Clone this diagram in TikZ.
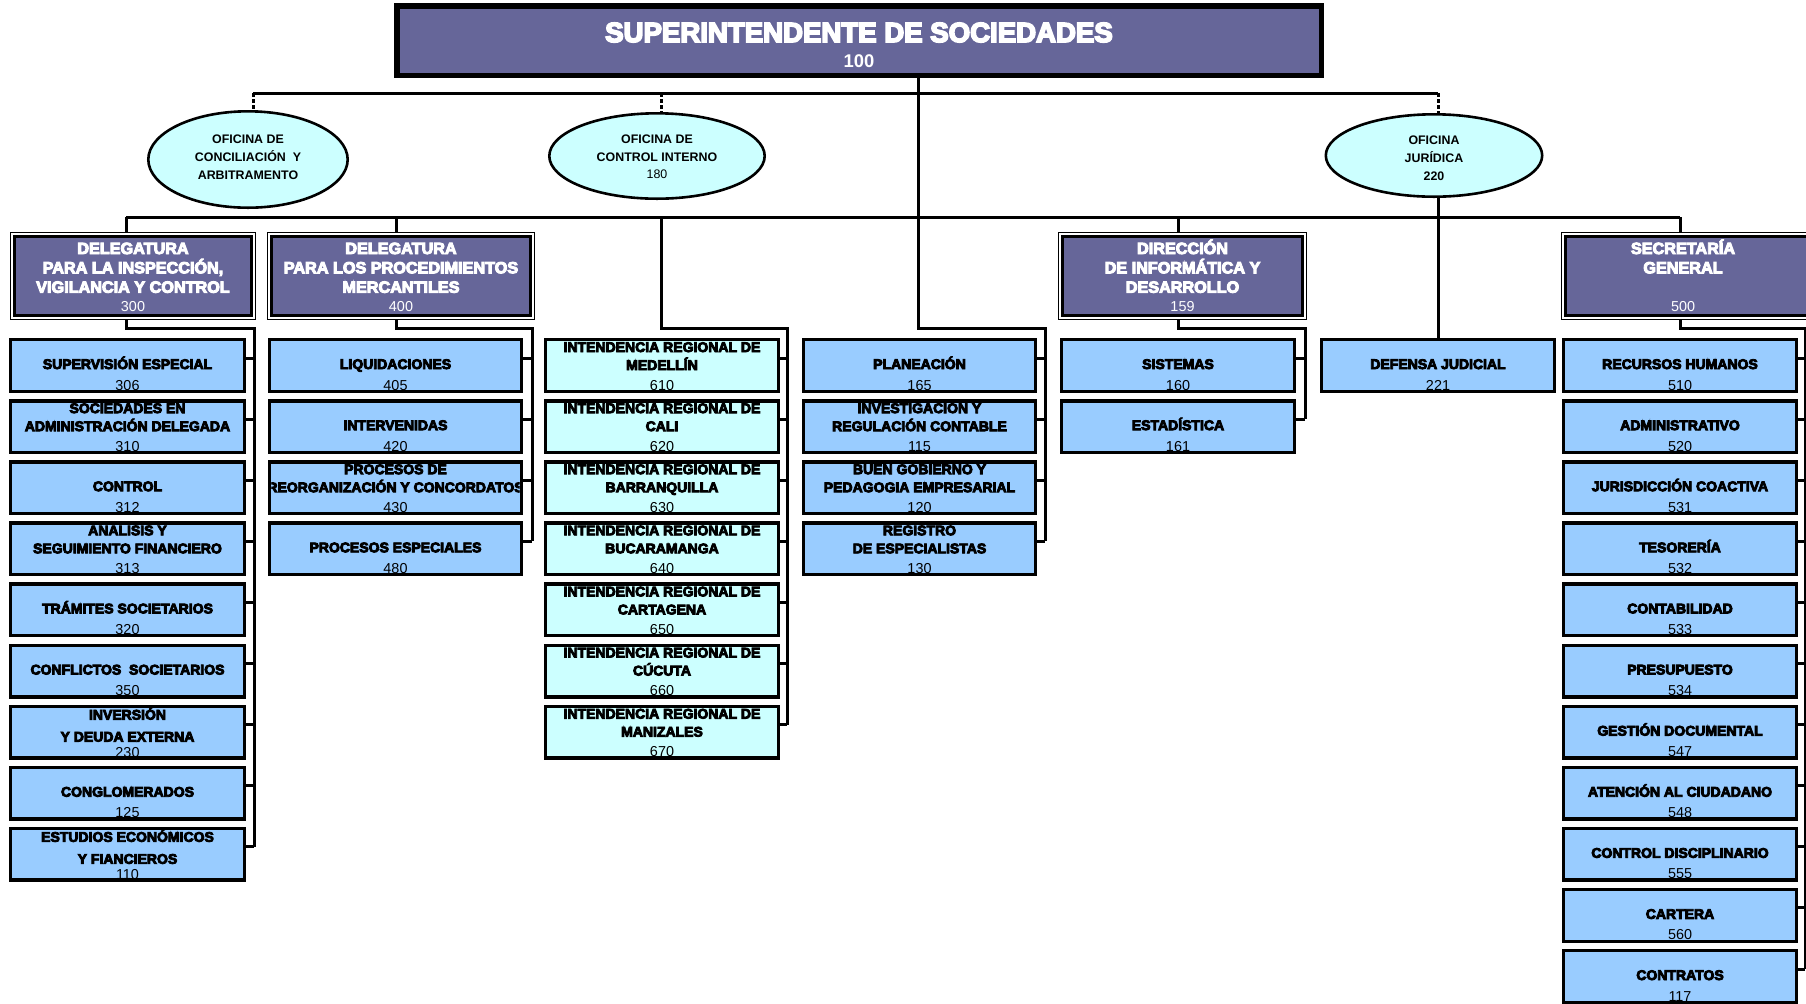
\documentclass[tikz,border=0pt]{standalone}
\usepackage{fontspec}
\setmainfont{Liberation Sans}
\newfontfamily\heavy{Liberation Sans}[BoldFeatures={FakeBold=6}]
\usetikzlibrary{calc,shapes.geometric}
\definecolor{purp}{HTML}{666699}
\definecolor{lblue}{HTML}{99CCFF}
\definecolor{lcyan}{HTML}{CCFFFF}
% child box: name, x-left (outer), row, width (outer), fill
\newcommand\kid[5]{%
  \node[kidbox,fill=#5,minimum width={(#4-3.4)*0.5pt}] (#1) at ({#2+1.7},{338+61.1*#3+1.7}) {};}
\newcommand\kone[3]{%
  \node[ttl] (#1-a) at ($(#1.north)+(0,29.3)$) {#2};
  \node[num] (#1-n) at ($(#1.north)+(0,50.3)$) {#3};}
\newcommand\ktwo[4]{%
  \node[ttl] (#1-a) at ($(#1.north)+(0,12.3)$) {#2};
  \node[ttl] (#1-b) at ($(#1.north)+(0,30.3)$) {#3};
  \node[num] (#1-n) at ($(#1.north)+(0,50.3)$) {#4};}
\newcommand\ktwob[4]{%
  \node[ttl] (#1-a) at ($(#1.north)+(0,13.3)$) {#2};
  \node[ttl] (#1-b) at ($(#1.north)+(0,35.3)$) {#3};
  \node[num] (#1-n) at ($(#1.north)+(0,51.3)$) {#4};}
% delegatura box: name, x-left, x-right
\newcommand\dbox[3]{%
  \node[draw,line width=0.6pt,fill=white,anchor=north west,minimum width={(#3-#2-1.2)*0.5pt},minimum height={(88-1.2)*0.5pt}] (#1) at ({#2+0.6},232.6) {};
  \draw[line width=1.4pt,fill=purp] ($(#1.north west)+(3.7,3.7)$) rectangle ($(#1.south east)+(-3.7,-3.7)$);}
% stubs from children to bracket
\newcommand\stubs[3]{\foreach \k in {0,...,#2}{%
  \path ($(#1\k.north east)+(0,18.3)$) coordinate (#1\k s);
  \draw[conn] (#1\k s) -- (#1\k s -| #3);}}
\begin{document}
\begin{tikzpicture}[x=0.5pt,y=-0.5pt,
  every node/.style={inner sep=0pt,outer sep=0pt},
  kidbox/.style={draw,line width=1.7pt,anchor=north west,minimum height=25.8pt},
  ttl/.style={anchor=base,font=\heavy\bfseries\fontsize{7}{8}\selectfont},
  num/.style={anchor=base,font=\fontsize{7.2}{8}\selectfont},
  dtxt/.style={anchor=base,text=white,font=\heavy\bfseries\fontsize{8.1}{9}\selectfont},
  dnum/.style={anchor=base,text=white,font=\fontsize{7.2}{8}\selectfont},
  ell/.style={ellipse,draw,line width=1.3pt,fill=lcyan},
  etxt/.style={anchor=base,font=\bfseries\fontsize{6.2}{7}\selectfont},
  enum/.style={anchor=base,font=\fontsize{6.2}{7}\selectfont},
  conn/.style={line width=1.5pt},
  dconn/.style={line width=1.5pt,dash pattern=on 2pt off 1pt}]
\useasboundingbox (0,0) rectangle (1806,1003);
\clip (0,0) rectangle (1806,1003);

% ---------- top box ----------
\node[draw,line width=2.75pt,fill=purp,anchor=north west,minimum width={(1324-394-5.5)*0.5pt},minimum height={(78-3-5.5)*0.5pt}] (top) at (396.75,5.75) {};
\node[anchor=base,text=white,font=\heavy\bfseries\fontsize{13.8}{15}\selectfont] (topt) at (859,42) {SUPERINTENDENTE DE SOCIEDADES};
\node[anchor=base,text=white,font=\bfseries\fontsize{9.2}{10}\selectfont] (topn) at (859,67) {100};

% ---------- ellipses ----------
\node[ell,minimum width=99.7pt,minimum height=48.2pt] (e1) at (248,159.5) {};
\node[etxt] (e1a) at (248,143.5) {OFICINA DE};
\node[etxt] (e1b) at (248,161.5) {CONCILIACIÓN\ \ Y};
\node[etxt] (e1c) at (248,179.5) {ARBITRAMENTO};
\node[ell,minimum width=107.7pt,minimum height=42.7pt] (e2) at (657,156) {};
\node[etxt] (e2a) at (657,143.5) {OFICINA DE};
\node[etxt] (e2b) at (657,161.5) {CONTROL INTERNO};
\node[enum] (e2c) at (657,178.5) {180};
\node[ell,minimum width=108.2pt,minimum height=41.2pt] (e3) at (1434,155.5) {};
\node[etxt] (e3a) at (1434,144.5) {OFICINA};
\node[etxt] (e3b) at (1434,162.5) {JURÍDICA};
\node[etxt] (e3c) at (1434,180.5) {220};

% ---------- second level boxes ----------
\dbox{d3}{10}{256}
\node[dtxt] (d3a) at (d3.north |- 0,254) {DELEGATURA};
\node[dtxt] (d3b) at (d3.north |- 0,273.3) {PARA LA INSPECCIÓN,};
\node[dtxt] (d3c) at (d3.north |- 0,292.7) {VIGILANCIA Y CONTROL};
\node[dnum] (d3n) at (d3.north |- 0,311.5) {300};
\dbox{d4}{267}{535}
\node[dtxt] (d4a) at (d4.north |- 0,254) {DELEGATURA};
\node[dtxt] (d4b) at (d4.north |- 0,273.3) {PARA LOS PROCEDIMIENTOS};
\node[dtxt] (d4c) at (d4.north |- 0,292.7) {MERCANTILES};
\node[dnum] (d4n) at (d4.north |- 0,311.5) {400};
\dbox{dd}{1058}{1307}
\node[dtxt] (dda) at (dd.north |- 0,254) {DIRECCIÓN};
\node[dtxt] (ddb) at (dd.north |- 0,273.3) {DE INFORMÁTICA Y};
\node[dtxt] (ddc) at (dd.north |- 0,292.7) {DESARROLLO};
\node[dnum] (ddn) at (dd.north |- 0,311.5) {159};
\dbox{sg}{1561}{1812}
\node[dtxt] (sga) at (1683,254) {SECRETARÍA};
\node[dtxt] (sgb) at (1683,273.3) {GENERAL};
\node[dnum] (sgn) at (1683,311.5) {500};

% ---------- children: Delegatura 300 ----------
\kid{l0}{9}{0}{237}{lblue}\kone{l0}{SUPERVISIÓN ESPECIAL}{306}
\kid{l1}{9}{1}{237}{lblue}\ktwo{l1}{SOCIEDADES EN}{ADMINISTRACIÓN DELEGADA}{310}
\kid{l2}{9}{2}{237}{lblue}\kone{l2}{CONTROL}{312}
\kid{l3}{9}{3}{237}{lblue}\ktwo{l3}{ANALISIS Y}{SEGUIMIENTO FINANCIERO}{313}
\kid{l4}{9}{4}{237}{lblue}\kone{l4}{TRÁMITES SOCIETARIOS}{320}
\kid{l5}{9}{5}{237}{lblue}\kone{l5}{CONFLICTOS\ \ SOCIETARIOS}{350}
\kid{l6}{9}{6}{237}{lblue}\ktwob{l6}{INVERSIÓN}{Y DEUDA EXTERNA}{230}
\kid{l7}{9}{7}{237}{lblue}\kone{l7}{CONGLOMERADOS}{125}
\kid{l8}{9}{8}{237}{lblue}\ktwob{l8}{ESTUDIOS ECONÓMICOS}{Y FIANCIEROS}{110}

% ---------- children: Delegatura 400 ----------
\kid{m0}{268}{0}{255}{lblue}\kone{m0}{LIQUIDACIONES}{405}
\kid{m1}{268}{1}{255}{lblue}\kone{m1}{INTERVENIDAS}{420}
\kid{m2}{268}{2}{255}{lblue}
\node[ttl] (m2-a) at ($(m2.north)+(0,12.3)$) {PROCESOS DE};
\begin{scope}
\clip ($(m2.north west)+(1.7,1.7)$) rectangle ($(m2.south east)+(-1.7,-1.7)$);
\node[ttl] (m2-b) at ($(m2.north)+(0,30.3)$) {REORGANIZACIÓN Y CONCORDATOS};
\end{scope}
\node[num] (m2-n) at ($(m2.north)+(0,50.3)$) {430};
\kid{m3}{268}{3}{255}{lblue}\kone{m3}{PROCESOS ESPECIALES}{480}

% ---------- children: Intendencias ----------
\kid{i0}{544}{0}{236}{lcyan}\ktwo{i0}{INTENDENCIA REGIONAL DE}{MEDELLÍN}{610}
\kid{i1}{544}{1}{236}{lcyan}\ktwo{i1}{INTENDENCIA REGIONAL DE}{CALI}{620}
\kid{i2}{544}{2}{236}{lcyan}\ktwo{i2}{INTENDENCIA REGIONAL DE}{BARRANQUILLA}{630}
\kid{i3}{544}{3}{236}{lcyan}\ktwo{i3}{INTENDENCIA REGIONAL DE}{BUCARAMANGA}{640}
\kid{i4}{544}{4}{236}{lcyan}\ktwo{i4}{INTENDENCIA REGIONAL DE}{CARTAGENA}{650}
\kid{i5}{544}{5}{236}{lcyan}\ktwo{i5}{INTENDENCIA REGIONAL DE}{CÚCUTA}{660}
\kid{i6}{544}{6}{236}{lcyan}\ktwo{i6}{INTENDENCIA REGIONAL DE}{MANIZALES}{670}

% ---------- children: Superintendente ----------
\kid{p0}{802}{0}{235}{lblue}\kone{p0}{PLANEACIÓN}{165}
\kid{p1}{802}{1}{235}{lblue}\ktwo{p1}{INVESTIGACIÓN Y}{REGULACIÓN CONTABLE}{115}
\kid{p2}{802}{2}{235}{lblue}\ktwo{p2}{BUEN GOBIERNO Y}{PEDAGOGIA EMPRESARIAL}{120}
\kid{p3}{802}{3}{235}{lblue}\ktwo{p3}{REGISTRO}{DE ESPECIALISTAS}{130}

% ---------- children: Dirección ----------
\kid{s0}{1060}{0}{236}{lblue}\kone{s0}{SISTEMAS}{160}
\kid{s1}{1060}{1}{236}{lblue}\kone{s1}{ESTADÍSTICA}{161}

% ---------- child: Oficina Jurídica ----------
\kid{def}{1320}{0}{236}{lblue}\kone{def}{DEFENSA JUDICIAL}{221}

% ---------- children: Secretaría ----------
\kid{r0}{1562}{0}{236}{lblue}\kone{r0}{RECURSOS HUMANOS}{510}
\kid{r1}{1562}{1}{236}{lblue}\kone{r1}{ADMINISTRATIVO}{520}
\kid{r2}{1562}{2}{236}{lblue}\kone{r2}{JURISDICCIÓN COACTIVA}{531}
\kid{r3}{1562}{3}{236}{lblue}\kone{r3}{TESORERÍA}{532}
\kid{r4}{1562}{4}{236}{lblue}\kone{r4}{CONTABILIDAD}{533}
\kid{r5}{1562}{5}{236}{lblue}\kone{r5}{PRESUPUESTO}{534}
\kid{r6}{1562}{6}{236}{lblue}\kone{r6}{GESTIÓN DOCUMENTAL}{547}
\kid{r7}{1562}{7}{236}{lblue}\kone{r7}{ATENCIÓN AL CIUDADANO}{548}
\kid{r8}{1562}{8}{236}{lblue}\kone{r8}{CONTROL DISCIPLINARIO}{555}
\kid{r9}{1562}{9}{236}{lblue}\kone{r9}{CARTERA}{560}
\kid{r10}{1562}{10}{236}{lblue}\kone{r10}{CONTRATOS}{117}

% ---------- connector coordinates ----------
\coordinate (b1a) at (253,93);
\coordinate (b1b) at (1438,93);
\coordinate (tk) at (918,328);
\coordinate (b2a) at (126,217);
\coordinate (b2m) at (396,217);
\coordinate (b2i) at (661,217);
\coordinate (b2d) at (1178,217);
\coordinate (b2b) at (1680,217);
\coordinate (lb) at (254,846.8);
\coordinate (mb) at (532,541.3);
\coordinate (ib) at (787,724.6);
\coordinate (pb) at (1045,541.3);
\coordinate (sb) at (1305,419.1);
\coordinate (rb) at (1805,969);

% ---------- connectors ----------
\draw[conn] (b1a) -- (b1b);
\draw[dconn] (b1a) -- (b1a |- e1.north);
\draw[dconn] (b2i |- b1a) -- (b2i |- e2.north);
\draw[dconn] (b1b) -- (b1b |- e3.north);
\draw[conn] (tk |- top.south) -- (tk) -| (pb);
\draw[conn] (b2a) -- (b2b);
\draw[conn] (b2a) -- (b2a |- d3.north);
\draw[conn] (b2m) -- (b2m |- d4.north);
\draw[conn] (b2d) -- (b2d |- dd.north);
\draw[conn] (b2b) -- (b2b |- sg.north);
\draw[conn] (b2i) -- (b2i |- tk) -| (ib);
\draw[conn] (b2a |- d3.south) -- (b2a |- tk) -| (lb);
\draw[conn] (b2m |- d4.south) -- (b2m |- tk) -| (mb);
\draw[conn] (b2d |- dd.south) -- (b2d |- tk) -| (sb);
\draw[conn] (b2b |- sg.south) -- (b2b |- tk) -| (rb);
\draw[conn] (def.north |- e3.south) -- (def.north);
\stubs{l}{8}{lb}
\stubs{m}{3}{mb}
\stubs{i}{6}{ib}
\stubs{p}{3}{pb}
\stubs{s}{1}{sb}
\stubs{r}{10}{rb}
\end{tikzpicture}
\end{document}
